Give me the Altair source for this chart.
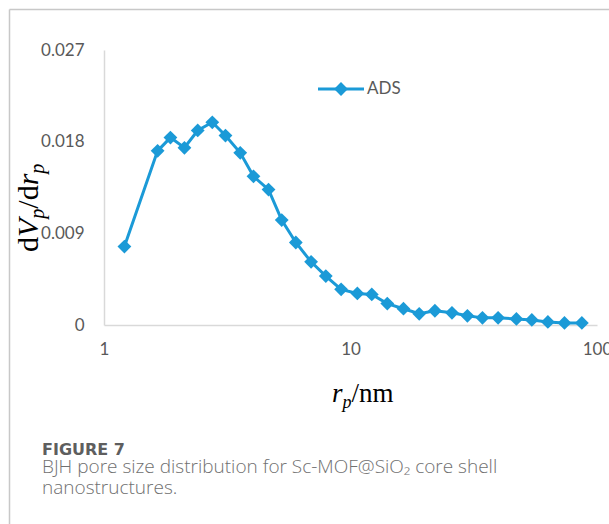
import altair as alt
import pandas as pd

# BJH adsorption branch: pore radius (nm) against dV/dr
radius_nm = [1.21, 1.65, 1.86, 2.12, 2.40, 2.75, 3.11, 3.57, 4.04, 4.65,
             5.26, 6.00, 6.92, 7.94, 9.16, 10.66, 12.2, 14.1, 16.4, 19.0,
             22.0, 25.8, 29.8, 34.3, 39.7, 47.1, 54.4, 63.2, 73.8, 86.8]
dv_dr = [0.0077, 0.0171, 0.0184, 0.0174, 0.0191, 0.0199, 0.0186, 0.0169, 0.0146, 0.0133,
         0.0103, 0.0081, 0.0062, 0.0048, 0.0035, 0.0031, 0.0030, 0.0021, 0.0016, 0.0011,
         0.0014, 0.0012, 0.0009, 0.0007, 0.0007, 0.0006, 0.0005, 0.0003, 0.0002, 0.0002]
x_ticks = [1, 10, 100]
y_ticks = [0, 0.009, 0.018, 0.027]
series_name = "ADS"
caption_head = "FIGURE 7"
caption_lines = ["BJH pore size distribution for Sc-MOF@SiO\u2082 core shell",
                 "nanostructures."]

BLUE = "#1b9ad7"
AXIS_GREY = "#d9d9d9"
LABEL_GREY = "#595959"
W, H = 493, 275
PAD = {"left": 104, "top": 50, "right": 12, "bottom": 199}

df = pd.DataFrame({"r": radius_nm, "dv": dv_dr})

x_enc = alt.X("r:Q",
              scale=alt.Scale(type="log", domain=[1, 100]),
              axis=alt.Axis(values=x_ticks, format="~g", title=None, grid=False,
                            ticks=False, domainColor=AXIS_GREY, domainWidth=1.5,
                            labelColor=LABEL_GREY, labelFont="Lato", labelFontSize=17,
                            labelPadding=16, labelFlush=False, labelOverlap=False))
y_enc = alt.Y("dv:Q",
              scale=alt.Scale(domain=[0, 0.027], nice=False, zero=True),
              axis=alt.Axis(values=y_ticks, title=None, grid=False, ticks=False,
                            labelExpr="datum.value == 0 ? '0' : format(datum.value, '.3f')",
                            domainColor=AXIS_GREY, domainWidth=1.5,
                            labelColor=LABEL_GREY, labelFont="Lato", labelFontSize=17,
                            labelPadding=20))

base = alt.Chart(df)
line = base.mark_line(color=BLUE, strokeWidth=3).encode(x=x_enc, y=y_enc)
dots = base.mark_point(shape="diamond", filled=True, size=190, color=BLUE,
                       opacity=1).encode(x=x_enc, y=y_enc)

layers = [line, dots]


def one(text):
    return alt.Chart(pd.DataFrame({"label": [text]}))


# legend: short line with a diamond, then the series name
layers.append(one(series_name).mark_rule(color=BLUE, strokeWidth=3).encode(
    x=alt.value(214), x2=alt.value(260), y=alt.value(39)))
layers.append(one(series_name).mark_point(shape="diamond", filled=True, size=190,
                                          color=BLUE, opacity=1).encode(
    x=alt.value(237), y=alt.value(39)))
layers.append(one(series_name).mark_text(align="left", baseline="middle", font="Lato",
                                         fontSize=17, color=LABEL_GREY).encode(
    x=alt.value(263), y=alt.value(39), text="label:N"))

# figure frame (top and left edges)
layers.append(one("frame").mark_rule(color="#c8c8c8", strokeWidth=1.5).encode(
    x=alt.value(-94.5), x2=alt.value(520), y=alt.value(-40.5)))
layers.append(one("frame").mark_rule(color="#c8c8c8", strokeWidth=1.5).encode(
    x=alt.value(-94.5), y=alt.value(-40.5), y2=alt.value(480)))

# Times advance widths (em) for the glyphs used in the axis titles
ADV = {"d": 0.5, "V": 0.611, "p": 0.5, "/": 0.278, "r": 0.389, "n": 0.5, "m": 0.778}


def math_title(parts, x0, y0, vertical):
    """parts: (text, size, italic, subscript)"""
    out = []
    pos = 0.0
    for text, size, italic, sub in parts:
        shift = 0.22 * size / 0.68 if sub else 0.0
        if vertical:
            px, py, ang = x0 + shift, y0 - pos, 270
        else:
            px, py, ang = x0 + pos, y0 + shift, 0
        out.append(one(text).mark_text(align="left", baseline="alphabetic",
                                       font="Liberation Serif", fontSize=size,
                                       fontStyle="italic" if italic else "normal",
                                       angle=ang, color="black").encode(
            x=alt.value(px), y=alt.value(py), text="label:N"))
        pos += sum(ADV.get(c, 0.5) for c in text) * size
    return out


big, small = 30, 20
layers += math_title([("d", big, False, False), ("V", big, True, False),
                      ("p", small, True, True), ("/d", big, False, False),
                      ("r", big, True, False), ("p", small, True, True)],
                     -66, 202, True)
layers += math_title([("r", 27, True, False), ("p", 18, True, True),
                      ("/nm", 27, False, False)],
                     228, 352, False)

# caption
layers.append(one(caption_head).mark_text(align="left", baseline="alphabetic",
                                          font="DejaVu Sans", fontSize=16, fontWeight="bold",
                                          color="#5e5e5e").encode(
    x=alt.value(-62), y=alt.value(405), text="label:N"))
for i, txt in enumerate(caption_lines):
    layers.append(one(txt).mark_text(align="left", baseline="alphabetic",
                                     font="Open Sans", fontSize=19, fontWeight=300,
                                     color="#707070").encode(
        x=alt.value(-62), y=alt.value(423 + 20.7 * i), text="label:N"))

chart = alt.layer(*layers).properties(
    width=W, height=H, padding=PAD,
    autosize=alt.AutoSizeParams(type="none"),
    background="white",
).configure_view(stroke=None)

chart.save("out.html", embed_options={"renderer": "svg", "actions": False})
